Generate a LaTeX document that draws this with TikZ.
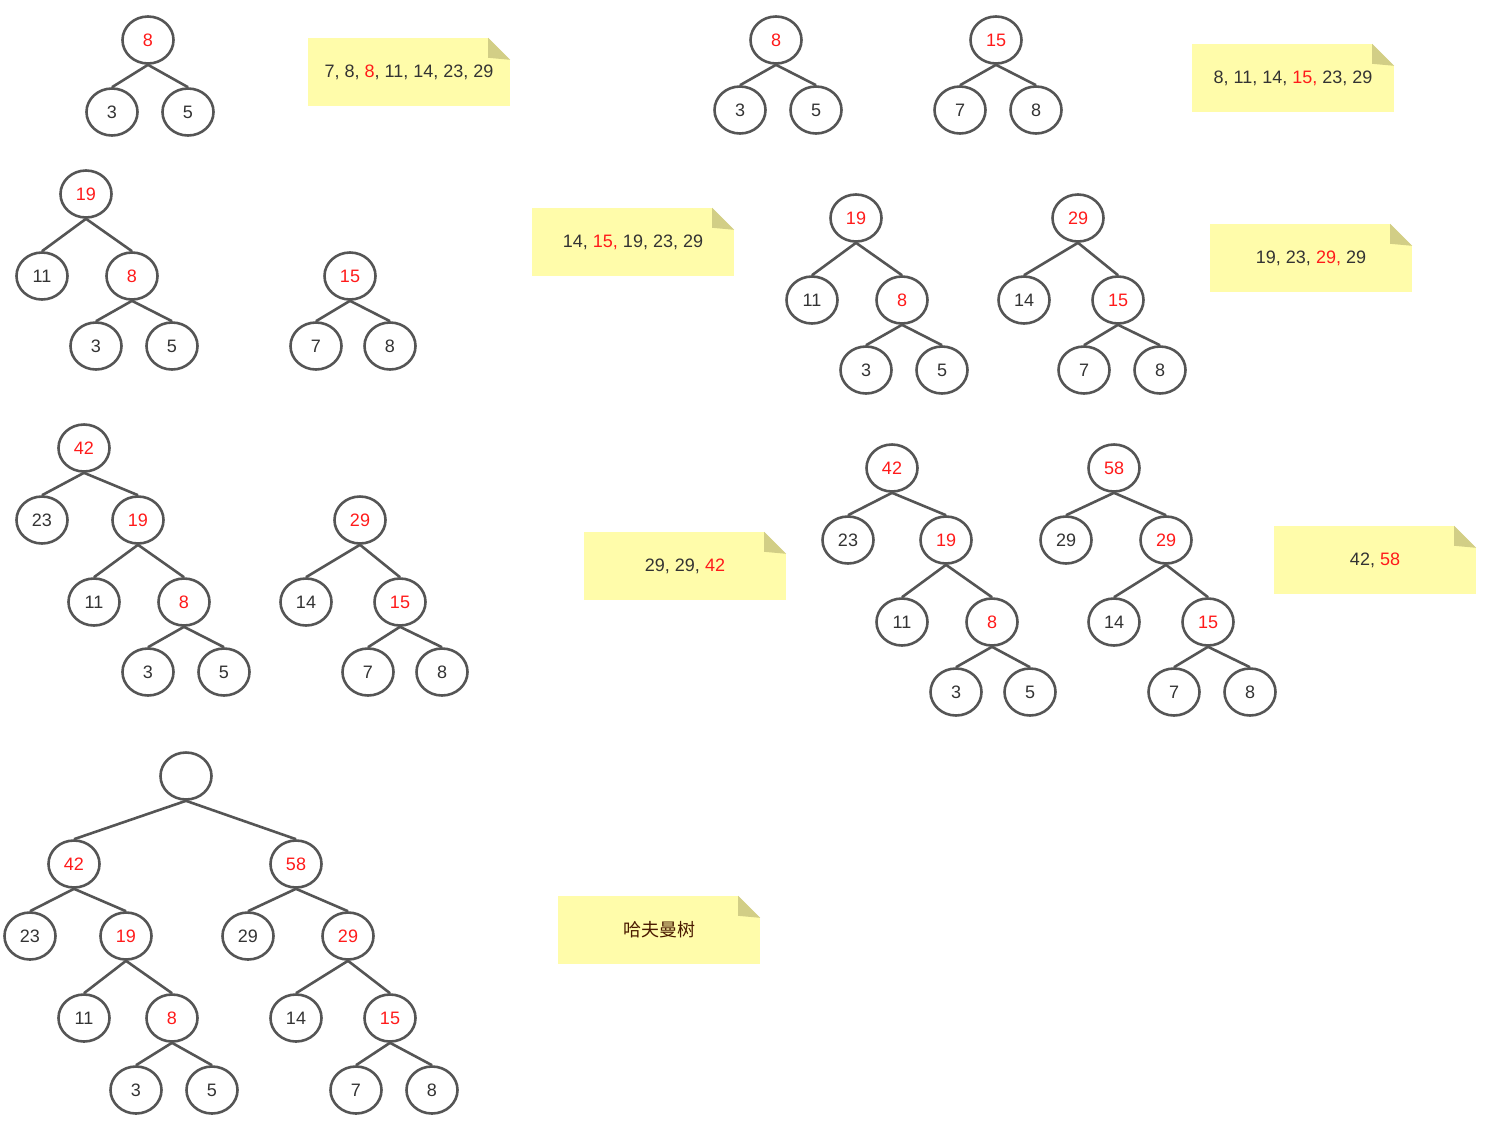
\documentclass[tikz,border=0pt]{standalone}
\usepackage{fontspec}
\setmainfont{Liberation Sans}
\newfontfamily\cjk{Noto Sans CJK SC}
\usetikzlibrary{shapes.geometric,calc}
\definecolor{ink}{HTML}{333333}
\definecolor{hot}{HTML}{FF1A1A}
\definecolor{rim}{HTML}{555555}
\definecolor{paper}{HTML}{FFFCAA}
\definecolor{foldc}{HTML}{D2CE86}
\definecolor{umber}{HTML}{4A1A00}
\tikzset{
  leaf/.style={ellipse,draw=rim,line width=2.6pt,minimum width=51pt,minimum height=47pt,inner sep=0pt,text=ink,font=\fontsize{18}{20}\selectfont},
  sum/.style={leaf,text=hot},
  note/.style={fill=paper,minimum width=202pt,minimum height=68pt,inner sep=0pt,text=ink,font=\fontsize{18}{20}\selectfont},
  branch/.style={draw=rim,line width=2.6pt}
}
\newcommand{\hl}[1]{\textcolor{hot}{#1}}
\newcommand{\dogear}[1]{%
  \fill[white] ($(#1.north east)+(-22pt,0pt)$) -- (#1.north east) -- ($(#1.north east)+(0pt,-22pt)$) -- cycle;
  \fill[foldc] ($(#1.north east)+(-22pt,0pt)$) -- ($(#1.north east)+(-22pt,-20pt)$) -- ($(#1.north east)+(0pt,-22pt)$) -- cycle;}

\begin{document}
\begin{tikzpicture}[x=1pt,y=-1pt]
\useasboundingbox (0,0) rectangle (1510,1144);

% step 1
\node[sum] (a_top) at (148,40) {8};
\node[leaf] (a_3) at (112,112) {3};
\node[leaf] (a_5) at (188,112) {5};
\path[branch] (a_top.south) edge (a_3.north)
              (a_top.south) edge (a_5.north);
\node[note] (n_1) at (409,72) {7, 8, \hl{8}, 11, 14, 23, 29};
\dogear{n_1}

% step 2
\node[sum] (b_top) at (776,40) {8};
\node[leaf] (b_3) at (740,110) {3};
\node[leaf] (b_5) at (816,110) {5};
\node[sum] (c_top) at (996,40) {15};
\node[leaf] (c_7) at (960,110) {7};
\node[leaf] (c_8) at (1036,110) {8};
\path[branch] (b_top.south) edge (b_3.north)
              (b_top.south) edge (b_5.north)
              (c_top.south) edge (c_7.north)
              (c_top.south) edge (c_8.north);
\node[note] (n_2) at (1293,78) {8, 11, 14, \hl{15,} 23, 29};
\dogear{n_2}

% step 3
\node[sum] (d_top) at (86,194) {19};
\node[leaf] (d_11) at (42,276) {11};
\node[sum] (d_8) at (132,276) {8};
\node[leaf] (d_3) at (96,346) {3};
\node[leaf] (d_5) at (172,346) {5};
\node[sum] (e_top) at (350,276) {15};
\node[leaf] (e_7) at (316,346) {7};
\node[leaf] (e_8) at (390,346) {8};
\path[branch] (d_top.south) edge (d_11.north)
              (d_top.south) edge (d_8.north)
              (d_8.south) edge (d_3.north)
              (d_8.south) edge (d_5.north)
              (e_top.south) edge (e_7.north)
              (e_top.south) edge (e_8.north);
\node[note] (n_3) at (633,242) {14, \hl{15,} 19, 23, 29};
\dogear{n_3}

% step 4
\node[sum] (f_top) at (856,218) {19};
\node[leaf] (f_11) at (812,300) {11};
\node[sum] (f_8) at (902,300) {8};
\node[leaf] (f_3) at (866,370) {3};
\node[leaf] (f_5) at (942,370) {5};
\node[sum] (g_top) at (1078,218) {29};
\node[leaf] (g_14) at (1024,300) {14};
\node[sum] (g_15) at (1118,300) {15};
\node[leaf] (g_7) at (1084,370) {7};
\node[leaf] (g_8) at (1160,370) {8};
\path[branch] (f_top.south) edge (f_11.north)
              (f_top.south) edge (f_8.north)
              (f_8.south) edge (f_3.north)
              (f_8.south) edge (f_5.north)
              (g_top.south) edge (g_14.north)
              (g_top.south) edge (g_15.north)
              (g_15.south) edge (g_7.north)
              (g_15.south) edge (g_8.north);
\node[note] (n_4) at (1311,258) {19, 23, \hl{29,} 29};
\dogear{n_4}

% step 5
\node[sum] (h_top) at (84,448) {42};
\node[leaf] (h_23) at (42,520) {23};
\node[sum] (h_19) at (138,520) {19};
\node[leaf] (h_11) at (94,602) {11};
\node[sum] (h_8) at (184,602) {8};
\node[leaf] (h_3) at (148,672) {3};
\node[leaf] (h_5) at (224,672) {5};
\node[sum] (i_top) at (360,520) {29};
\node[leaf] (i_14) at (306,602) {14};
\node[sum] (i_15) at (400,602) {15};
\node[leaf] (i_7) at (368,672) {7};
\node[leaf] (i_8) at (442,672) {8};
\path[branch] (h_top.south) edge (h_23.north)
              (h_top.south) edge (h_19.north)
              (h_19.south) edge (h_11.north)
              (h_19.south) edge (h_8.north)
              (h_8.south) edge (h_3.north)
              (h_8.south) edge (h_5.north)
              (i_top.south) edge (i_14.north)
              (i_top.south) edge (i_15.north)
              (i_15.south) edge (i_7.north)
              (i_15.south) edge (i_8.north);
\node[note] (n_5) at (685,566) {29, 29, \hl{42}};
\dogear{n_5}

% step 6
\node[sum] (j_top) at (892,468) {42};
\node[leaf] (j_23) at (848,540) {23};
\node[sum] (j_19) at (946,540) {19};
\node[leaf] (j_11) at (902,622) {11};
\node[sum] (j_8) at (992,622) {8};
\node[leaf] (j_3) at (956,692) {3};
\node[leaf] (j_5) at (1030,692) {5};
\node[sum] (k_top) at (1114,468) {58};
\node[leaf] (k_29) at (1066,540) {29};
\node[sum] (k_29r) at (1166,540) {29};
\node[leaf] (k_14) at (1114,622) {14};
\node[sum] (k_15) at (1208,622) {15};
\node[leaf] (k_7) at (1174,692) {7};
\node[leaf] (k_8) at (1250,692) {8};
\path[branch] (j_top.south) edge (j_23.north)
              (j_top.south) edge (j_19.north)
              (j_19.south) edge (j_11.north)
              (j_19.south) edge (j_8.north)
              (j_8.south) edge (j_3.north)
              (j_8.south) edge (j_5.north)
              (k_top.south) edge (k_29.north)
              (k_top.south) edge (k_29r.north)
              (k_29r.south) edge (k_14.north)
              (k_29r.south) edge (k_15.north)
              (k_15.south) edge (k_7.north)
              (k_15.south) edge (k_8.north);
\node[note] (n_6) at (1375,560) {42, \hl{58}};
\dogear{n_6}

% final tree
\node[leaf] (l_top) at (186,776) {};
\node[sum] (l_42) at (74,864) {42};
\node[sum] (l_58) at (296,864) {58};
\node[leaf] (l_23) at (30,936) {23};
\node[sum] (l_19) at (126,936) {19};
\node[leaf] (l_29) at (248,936) {29};
\node[sum] (l_29r) at (348,936) {29};
\node[leaf] (l_11) at (84,1018) {11};
\node[sum] (l_8) at (172,1018) {8};
\node[leaf] (l_14) at (296,1018) {14};
\node[sum] (l_15) at (390,1018) {15};
\node[leaf] (l_3) at (136,1090) {3};
\node[leaf] (l_5) at (212,1090) {5};
\node[leaf] (l_7) at (356,1090) {7};
\node[leaf] (l_8b) at (432,1090) {8};
\path[branch] (l_top.south) edge (l_42.north)
              (l_top.south) edge (l_58.north)
              (l_42.south) edge (l_23.north)
              (l_42.south) edge (l_19.north)
              (l_19.south) edge (l_11.north)
              (l_19.south) edge (l_8.north)
              (l_8.south) edge (l_3.north)
              (l_8.south) edge (l_5.north)
              (l_58.south) edge (l_29.north)
              (l_58.south) edge (l_29r.north)
              (l_29r.south) edge (l_14.north)
              (l_29r.south) edge (l_15.north)
              (l_15.south) edge (l_7.north)
              (l_15.south) edge (l_8b.north);
\node[note,text=umber,font=\cjk\fontsize{18}{20}\selectfont] (n_7) at (659,930) {哈夫曼树};
\dogear{n_7}
\end{tikzpicture}
\end{document}
